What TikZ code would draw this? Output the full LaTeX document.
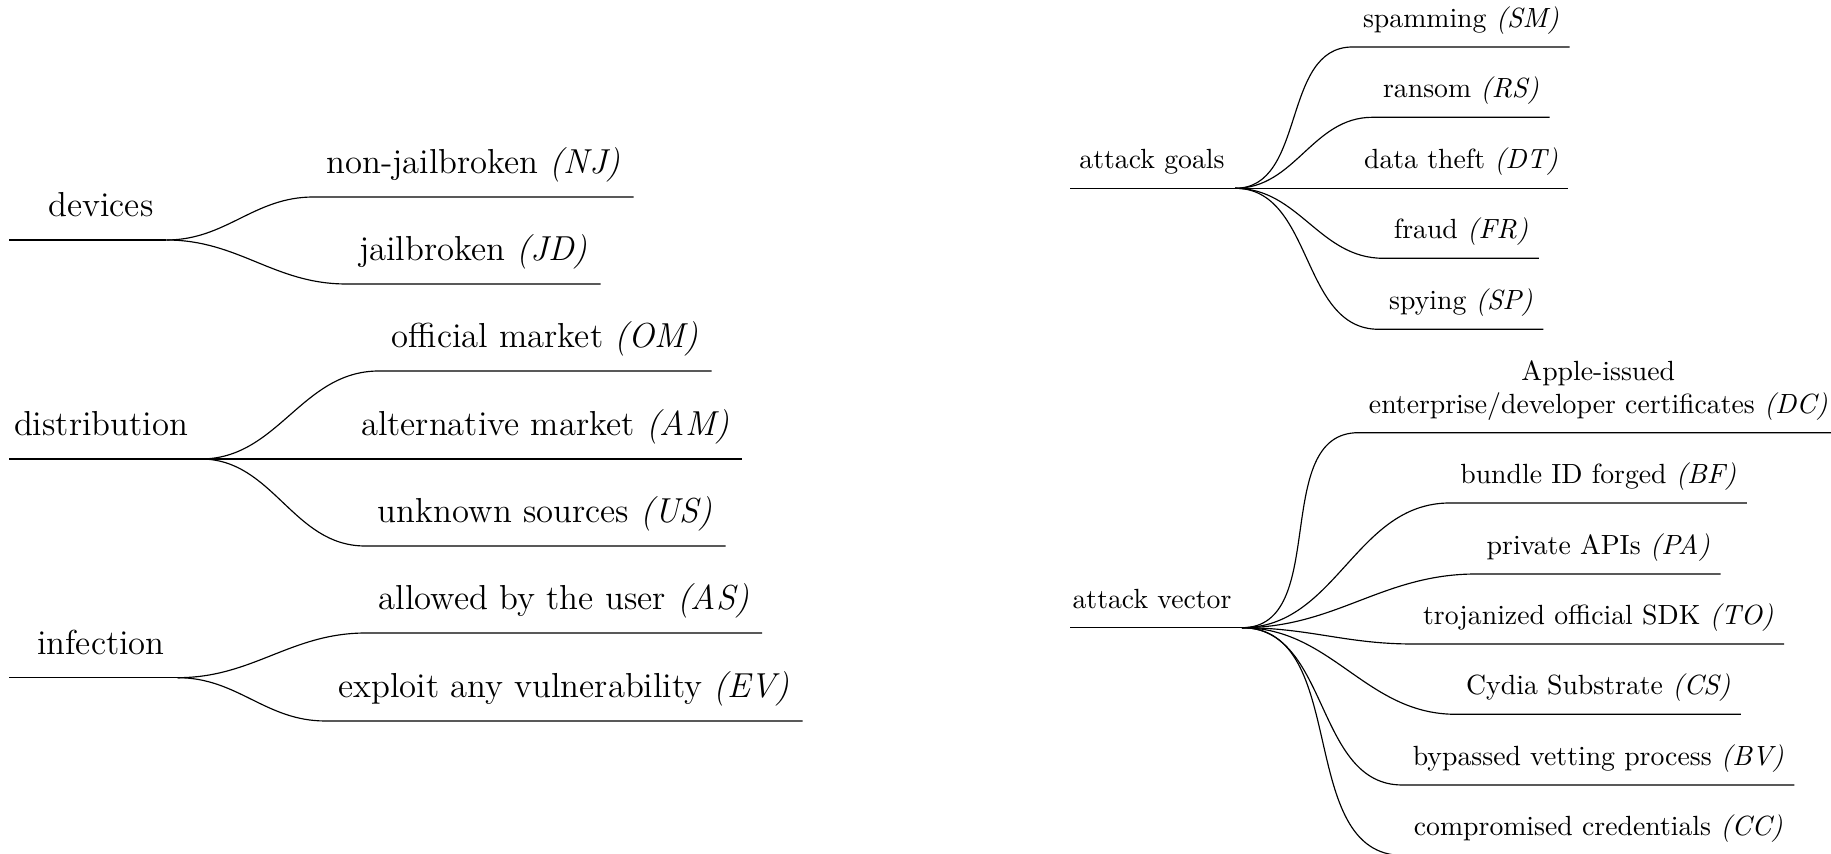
\documentclass[tikz,border=0pt]{standalone}
\begin{document}
\begin{tikzpicture}[x=0.346pt,y=-0.346pt,line width=0.4pt,
  Lnode/.style={font=\fontsize{12}{14.4}\selectfont, inner xsep=4.26pt, inner ysep=0pt, text depth=7.9pt, anchor=south},
  Rnode/.style={font=\fontsize{9.6}{11.42}\selectfont, inner xsep=3.46pt, inner ysep=0pt, text depth=6.6pt, anchor=south},
  branch/.style={draw, black}]
\useasboundingbox (0,0) rectangle (1831,854);
% ---------- devices ----------
\coordinate (devL) at (9,240);
\node[Lnode] (dev) at (101,240) {devices};
\node[Lnode] (nj) at (473.5,197) {non-jailbroken \textit{(NJ)}};
\node[Lnode] (jd) at (473.5,284) {jailbroken \textit{(JD)}};
\draw[branch] (devL) -- (dev.south east);
\draw[branch] (dev.south east) to[out=0,in=180] (nj.south west) -- (nj.south east);
\draw[branch] (dev.south east) to[out=0,in=180] (jd.south west) -- (jd.south east);
% ---------- distribution ----------
\coordinate (disL) at (9,459);
\node[Lnode] (dis) at (101,459) {distribution};
\node[Lnode] (om) at (545.3,371) {official market \textit{(OM)}};
\node[Lnode] (am) at (545.3,459) {alternative market \textit{(AM)}};
\node[Lnode] (us) at (545.3,546) {unknown sources \textit{(US)}};
\draw[branch] (disL) -- (dis.south east);
\draw[branch] (dis.south east) to[out=0,in=180] (om.south west) -- (om.south east);
\draw[branch] (dis.south east) -- (am.south west) -- (am.south east);
\draw[branch] (dis.south east) to[out=0,in=180] (us.south west) -- (us.south east);
% ---------- infection ----------
\coordinate (infL) at (9,677.7);
\node[Lnode] (inf) at (101,677.7) {infection};
\node[Lnode] (as) at (564,633) {allowed by the user \textit{(AS)}};
\node[Lnode] (ev) at (564,721) {exploit any vulnerability \textit{(EV)}};
\draw[branch] (infL) -- (inf.south east);
\draw[branch] (inf.south east) to[out=0,in=180] (as.south west) -- (as.south east);
\draw[branch] (inf.south east) to[out=0,in=180] (ev.south west) -- (ev.south east);
% ---------- attack goals ----------
\coordinate (agL) at (1070,188.3);
\node[Rnode] (ag) at (1152,188.3) {attack goals};
\node[Rnode] (sm) at (1461,47) {spamming \textit{(SM)}};
\node[Rnode] (rs) at (1461,117.3) {ransom \textit{(RS)}};
\node[Rnode] (dt) at (1461,188.3) {data theft \textit{(DT)}};
\node[Rnode] (fr) at (1461,258.3) {fraud \textit{(FR)}};
\node[Rnode] (sp) at (1461,329.3) {spying \textit{(SP)}};
\draw[branch] (agL) -- (ag.south east);
\foreach \c in {sm,rs,fr,sp}
  \draw[branch] (ag.south east) to[out=0,in=180] (\c.south west) -- (\c.south east);
\draw[branch] (ag.south east) -- (dt.south west) -- (dt.south east);
% ---------- attack vector ----------
\coordinate (avL) at (1070,627.7);
\node[Rnode] (av) at (1152,627.7) {attack vector};
\node[Rnode, align=center] (dc) at (1598.3,432.7) {Apple-issued\\enterprise/developer certificates \textit{(DC)}};
\node[Rnode] (bf) at (1598.3,503) {bundle ID forged \textit{(BF)}};
\node[Rnode] (pa) at (1598.3,574) {private APIs \textit{(PA)}};
\node[Rnode] (to) at (1598.3,644) {trojanized official SDK \textit{(TO)}};
\node[Rnode] (cs) at (1598.3,714.3) {Cydia Substrate \textit{(CS)}};
\node[Rnode] (bv) at (1598.3,785) {bypassed vetting process \textit{(BV)}};
\node[Rnode] (cc) at (1598.3,855.5) {compromised credentials \textit{(CC)}};
\draw[branch] (avL) -- (av.south east);
\foreach \c in {dc,bf,pa,to,cs,bv,cc}
  \draw[branch] (av.south east) to[out=0,in=180] (\c.south west) -- (\c.south east);
\end{tikzpicture}
\end{document}
